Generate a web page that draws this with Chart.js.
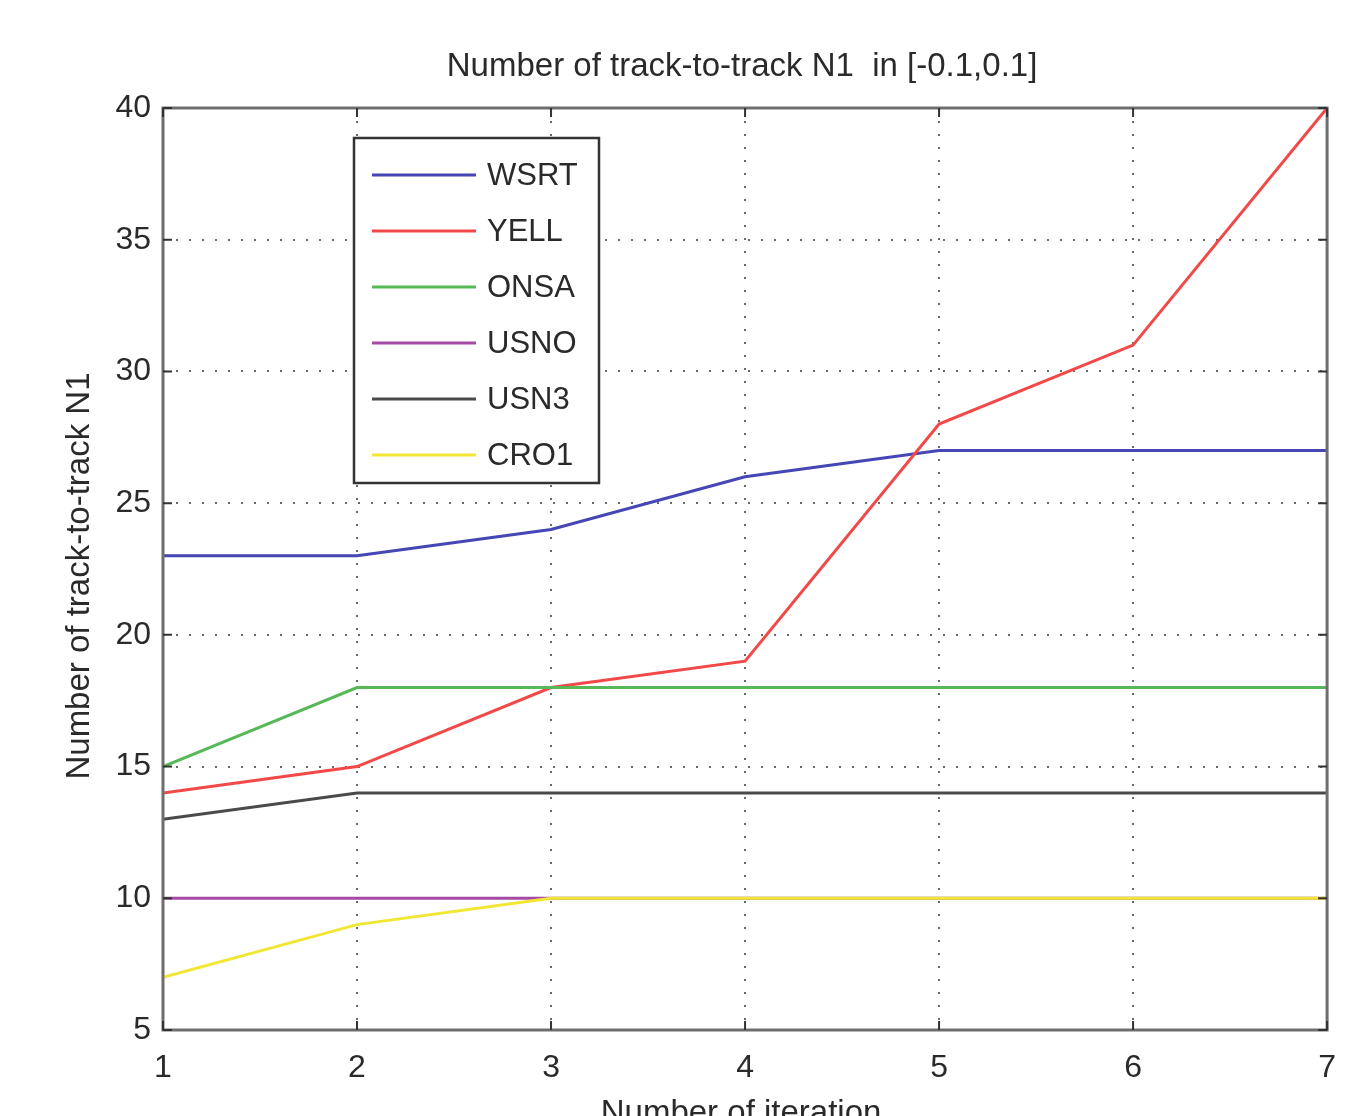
<!DOCTYPE html>
<html>
<head>
<meta charset="utf-8">
<script src="https://cdn.jsdelivr.net/npm/chart.js@4/dist/chart.umd.min.js"></script>
<style>
  body { margin: 0; background: #fff; }
  #wrap { width: 1355px; height: 1116px; }
</style>
</head>
<body>
<div id="wrap"><canvas id="n1chart" width="1355" height="1116"></canvas></div>
<script>
// iterations on the x axis
var iterations = [1, 2, 3, 4, 5, 6, 7];
var stations = ["WSRT", "YELL", "ONSA", "USNO", "USN3", "CRO1"];
var wsrt = [23, 23, 24, 26, 27, 27, 27];
var yell = [14, 15, 18, 19, 28, 31, 40];
var onsa = [15, 18, 18, 18, 18, 18, 18];
var usno = [10, 10, 10, 10, 10, 10, 10];
var usn3 = [13, 14, 14, 14, 14, 14, 14];
var cro1 = [7, 9, 10, 10, 10, 10, 10];
var yTicks = [5, 10, 15, 20, 25, 30, 35, 40];
var xTicks = [1, 2, 3, 4, 5, 6, 7];

var colors = ["#4646b4", "#f24848", "#56b856", "#a54aa5", "#4a4a4a", "#f2e634"];
var series = [wsrt, yell, onsa, usno, usn3, cro1];
var FONT = "'Liberation Sans', Arial, sans-serif";
var TITLE = "Number of track-to-track N1  in [-0.1,0.1]";

function toPoints(vals) {
  return vals.map((v, i) => ({ x: iterations[i], y: v }));
}

var datasets = stations.map((name, i) => ({
  label: name,
  data: toPoints(series[i]),
  borderColor: colors[i],
  backgroundColor: colors[i],
  borderWidth: 3,
  pointRadius: 0,
  tension: 0,
  order: stations.length - i, // later series on top, like matlab
}));

// box round the axes, inner legend, titles (matlab style, centred on the axes)
var matlabBits = {
  id: "matlabBits",
  afterDatasetsDraw(chart) {
    const ctx = chart.ctx;
    const a = chart.chartArea;
    const midX = (a.left + a.right) / 2;
    ctx.save();
    // box
    ctx.strokeStyle = "#6e6e6e";
    ctx.lineWidth = 3;
    ctx.strokeRect(a.left, a.top, a.right - a.left, a.bottom - a.top);
    // small inward ticks
    ctx.strokeStyle = "#333";
    ctx.lineWidth = 2;
    const xs = chart.scales.x, ys = chart.scales.y;
    xTicks.forEach((t) => {
      const px = xs.getPixelForValue(t);
      ctx.beginPath();
      ctx.moveTo(px, a.bottom); ctx.lineTo(px, a.bottom - 9);
      ctx.moveTo(px, a.top); ctx.lineTo(px, a.top + 9);
      ctx.stroke();
    });
    yTicks.forEach((t) => {
      const py = ys.getPixelForValue(t);
      ctx.beginPath();
      ctx.moveTo(a.left, py); ctx.lineTo(a.left + 9, py);
      ctx.moveTo(a.right, py); ctx.lineTo(a.right - 9, py);
      ctx.stroke();
    });

    // legend box
    const lx = 354, ly = 138, lw = 245, lh = 345;
    ctx.fillStyle = "#fff";
    ctx.fillRect(lx, ly, lw, lh);
    ctx.strokeStyle = "#333";
    ctx.lineWidth = 2.5;
    ctx.strokeRect(lx, ly, lw, lh);
    ctx.font = "31px " + FONT;
    ctx.textBaseline = "middle";
    ctx.textAlign = "left";
    chart.data.datasets.forEach((ds, i) => {
      const y = 175 + i * 56;
      ctx.strokeStyle = ds.borderColor;
      ctx.lineWidth = 3;
      ctx.beginPath();
      ctx.moveTo(372, y); ctx.lineTo(476, y);
      ctx.stroke();
      ctx.fillStyle = "#2a2a2a";
      ctx.fillText(ds.label, 487, y + 1);
    });

    // title and axis titles
    ctx.fillStyle = "#2a2a2a";
    ctx.font = "33px " + FONT;
    ctx.textAlign = "center";
    ctx.fillText(TITLE, midX - 3, 67);
    ctx.fillText("Number of iteration", midX - 4, 1114);
    ctx.translate(80, 576);
    ctx.rotate(-Math.PI / 2);
    ctx.fillText("Number of track-to-track N1", 0, 0);
    ctx.restore();
  },
};

var config = {
  type: "line",
  data: { datasets: datasets },
  options: {
    responsive: false,
    animation: false,
    layout: { padding: { left: 0, right: 27, top: 108, bottom: 0 } },
    plugins: {
      legend: { display: false },
      tooltip: { enabled: false },
      title: { display: false },
    },
    scales: {
      x: {
        type: "linear",
        min: 1,
        max: 7,
        afterFit: (s) => { s.height = 86; },
        afterBuildTicks: (s) => { s.ticks = xTicks.map((v) => ({ value: v })); },
        grid: { color: "#6a6a6a", lineWidth: 2, drawTicks: false },
        border: { display: false, dash: [2, 11] },
        ticks: { color: "#2a2a2a", font: { family: FONT, size: 32 }, padding: 19, maxRotation: 0 },
      },
      y: {
        min: 5,
        max: 40,
        afterFit: (s) => { s.width = 163; },
        afterBuildTicks: (s) => { s.ticks = yTicks.map((v) => ({ value: v })); },
        grid: { color: "#6a6a6a", lineWidth: 2, drawTicks: false },
        border: { display: false, dash: [2, 11] },
        ticks: { color: "#2a2a2a", font: { family: FONT, size: 32 }, padding: 12 },
      },
    },
  },
  plugins: [matlabBits],
};

window.addEventListener("load", function () {
  const ctx = document.getElementById("n1chart");
  new Chart(ctx, config);
});
</script>
</body>
</html>
